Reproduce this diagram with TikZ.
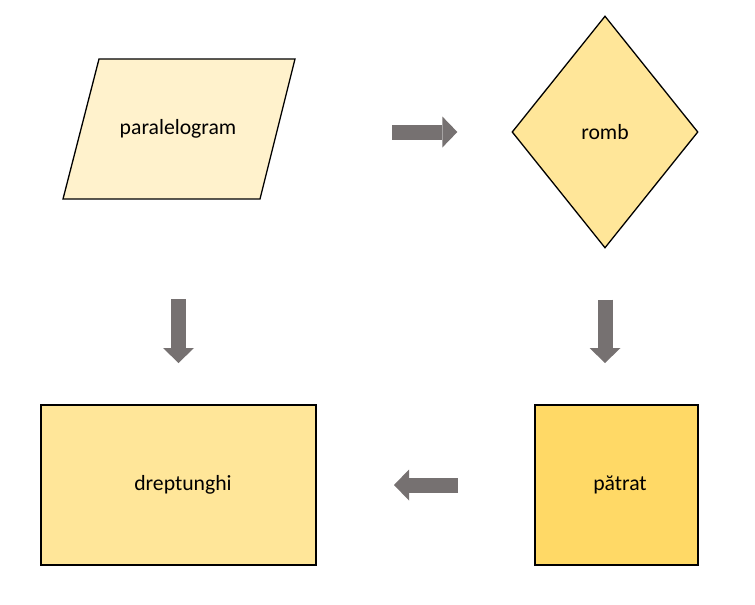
\documentclass[tikz,border=0pt]{standalone}
\usepackage{fontspec}
\setmainfont{Carlito}
\usepackage{tikz}
\usetikzlibrary{arrows.meta,shapes.geometric}
\definecolor{paleyellow}{HTML}{FFF2CC}
\definecolor{lightgold}{HTML}{FFE699}
\definecolor{gold}{HTML}{FFD966}
\definecolor{arrowgray}{HTML}{767171}

\begin{document}
\begin{tikzpicture}[x=1pt, y=-1pt, every node/.style={font=\fontsize{21.7}{26}\selectfont},
      shapebox/.style={draw,line width=2pt,inner sep=0pt,align=center},
      bigarrow/.style={arrowgray,line width=15pt,-{Triangle[length=15pt,width=31pt,line width=0pt]}}]
  \useasboundingbox (0,0) rectangle (755,605);
  % parallelogram drawn as a path, its label is the node
  \draw[line width=1.3pt,fill=paleyellow] (63,199) -- (99,59) -- (295,59) -- (260,199) -- cycle;
  \node (para) at (178,129) {paralelogram};
  \node[shapebox,line width=1.3pt,fill=lightgold,diamond,minimum width=186pt,minimum height=232pt] (romb) at (605,132) {romb};
  \node[shapebox,fill=lightgold,rectangle,minimum width=275pt,minimum height=160pt] (rect) at (178.5,485) {\hspace*{9pt}dreptunghi};
  \node[shapebox,fill=gold,rectangle,minimum width=163pt,minimum height=160pt] (sq) at (616.5,485) {\hspace*{7pt}pătrat};
  % arrows between the shapes
  \draw[bigarrow,shorten <=214pt,shorten >=54pt] (para |- romb.west) -- (romb.west);
  \draw[bigarrow,shorten <=51pt,shorten >=41pt] (romb.south) -- (romb.south |- sq.north);
  \draw[bigarrow,shorten <=76pt,shorten >=77pt] (sq.west) -- (sq.west -| rect.east);
  \draw[bigarrow,shorten <=170pt,shorten >=41pt] (rect.north |- para) -- (rect.north);
\end{tikzpicture}
\end{document}
